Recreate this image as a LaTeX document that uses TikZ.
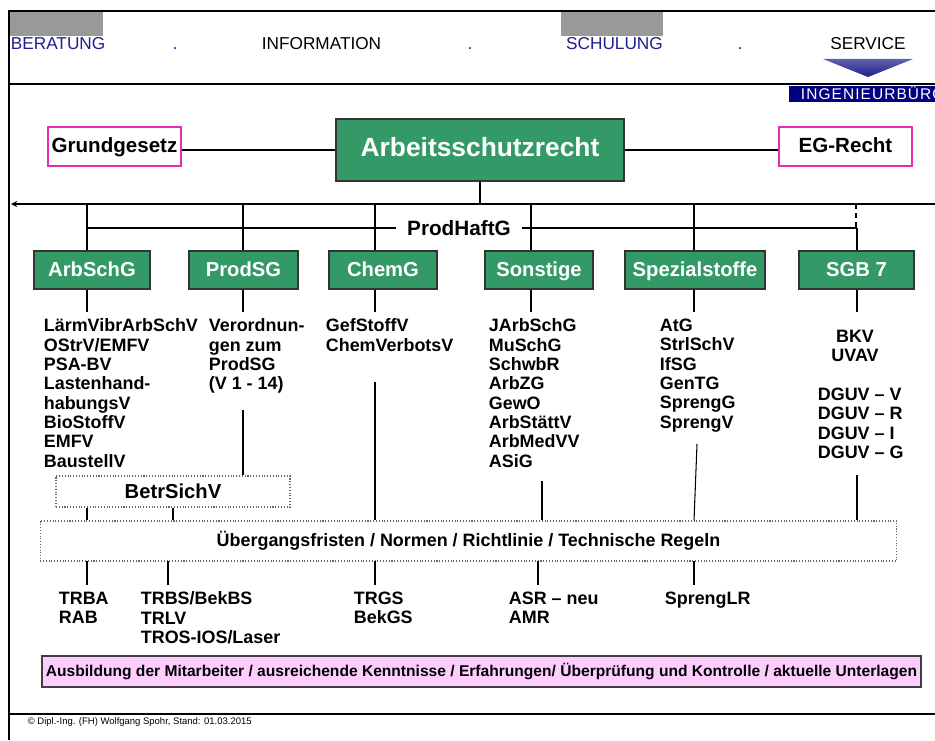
\documentclass[tikz,border=0pt]{standalone}
\usepackage{fontspec}
\setmainfont{Liberation Sans}
\usepackage{tikz}
\definecolor{lawgreen}{RGB}{51,153,102}
\definecolor{headblue}{RGB}{30,30,140}
\definecolor{officenavy}{RGB}{0,0,128}
\definecolor{sourcepink}{RGB}{225,45,175}
\definecolor{notepink}{RGB}{255,204,255}
\definecolor{bargrey}{RGB}{153,153,153}
\tikzset{%
  law box/.style={
    draw=black!80,
    line width=0.9pt,
    fill=lawgreen,
    text=white,
    inner sep=0pt,
    text height=0.72em,
    text depth=0pt,
    minimum height=0.76cm,
    font=\bfseries\fontsize{11.5}{13}\selectfont
  },
  source box/.style={
    draw=sourcepink,
    line width=0.8pt,
    fill=white,
    inner sep=0pt,
    text height=0.72em,
    text depth=0pt,
    minimum width=2.66cm,
    minimum height=0.78cm,
    font=\bfseries\fontsize{11.7}{13}\selectfont
  },
  law list/.style={
    anchor=north west,
    align=left,
    inner xsep=0pt,
    inner ysep=0.12cm,
    font=\bfseries\fontsize{10.2}{11}\selectfont
  },
  rule box/.style={
    draw=black!60,
    densely dotted,
    line width=0.6pt,
    inner sep=0pt
  },
  head/.style={
    anchor=base,
    inner sep=0pt,
    font=\fontsize{9.8}{11}\selectfont
  },
}

\begin{document}
\begin{tikzpicture}[x=0.02cm, y=-0.02cm, > = stealth, line width=1pt]
\useasboundingbox (0,0) rectangle (935,740);
\fill[bargrey] (10,12) rectangle (103,36);
\fill[bargrey] (561,12) rectangle (663,36);
\draw[line width=1.1pt] (935,11) -- (9,11) -- (9,740);
\draw[line width=1.1pt] (9,84) -- (935,84);
\draw[line width=1.1pt] (9,714) -- (935,714);

\node[head, anchor=base west, text=headblue] (beratung) at (10,50) {BERATUNG};
\node[head] (information) at (321.5,50) {INFORMATION};
\node[head, text=headblue] (schulung) at (614.5,50) {SCHULUNG};
\node[head] (service) at (868,50) {SERVICE};
\foreach \x/\n in {175/1, 470/2, 740/3}
  \node[head, text=headblue] (dot\n) at (\x,50) {.};
\shade[top color=headblue!70, bottom color=headblue] (823,59) -- (913,59) -- (868,77) -- cycle;
\fill[officenavy] (789,86) rectangle (935,102);
\node[anchor=base west, inner sep=0pt, text=white,
  font=\fontsize{8.8}{10}\selectfont\addfontfeature{LetterSpace=7}] (buero) at (800,99) {INGENIEURBÜRO};

\node[law box, minimum width=5.76cm, minimum height=1.24cm,
  font=\bfseries\fontsize{15}{17}\selectfont] (asr) at (480,150) {Arbeitsschutzrecht};
\node[source box] (gg) at (114.5,146.5) {Grundgesetz};
\node[source box] (eg) at (845.5,146.5) {EG-Recht};
\draw (gg.east |- asr.west) -- (asr.west);
\draw (asr.east) -- (eg.west |- asr.east);

\coordinate (busL) at (11,204);
\coordinate (busR) at (935,204);
\draw[->, line width=0.6pt] (busR) -- (busL);
\draw (asr.south) -- (asr.south |- busL);

\node[law box, minimum width=2.32cm] (arbschg) at (92,270) {ArbSchG};
\node[law box, minimum width=2.18cm] (prodsg) at (243.5,270) {ProdSG};
\node[law box, minimum width=2.16cm] (chemg) at (383,270) {ChemG};
\node[law box, minimum width=2.16cm] (sonst) at (539,270) {Sonstige};
\node[law box, minimum width=2.8cm] (spez) at (695,270) {Spezialstoffe};
\node[law box, minimum width=2.3cm] (sgb) at (856.5,270) {SGB 7};

\node[inner xsep=0.2cm, inner ysep=0pt,
  font=\bfseries\fontsize{11.8}{13}\selectfont] (phg) at (459,228) {ProdHaftG};
\coordinate (ph-a) at (87,228);
\coordinate (ph-b) at (857,228);
\draw[line width=0.6pt] (ph-a) -- (phg.west);
\draw[line width=0.6pt] (phg.east) -- (ph-b);
\coordinate (top-sgb) at (856,204);
\draw[densely dashed, line width=0.6pt] (top-sgb) -- (top-sgb |- ph-b);
\draw (ph-b) -- (ph-b |- sgb.north);

\node[law list] (l-arb) at (43,312) {LärmVibrArbSchV\\OStrV/EMFV\\PSA-BV\\Lastenhand-\\habungsV\\BioStoffV\\EMFV\\BaustellV};
\node[law list] (l-prod) at (208,312) {Verordnun-\\gen zum\\ProdSG\\(V 1 - 14)};
\node[law list] (l-chem) at (325,312) {GefStoffV\\ChemVerbotsV};
\node[law list] (l-sonst) at (488,312) {JArbSchG\\MuSchG\\SchwbR\\ArbZG\\GewO\\ArbStättV\\ArbMedVV\\ASiG};
\node[law list] (l-spez) at (659,312) {AtG\\StrlSchV\\IfSG\\GenTG\\SprengG\\SprengV};
\node[law list, anchor=north, align=center, inner ysep=0.34cm] (l-sgb) at (855,312) {BKV\\UVAV};
\node[law list] (l-dguv) at (817,381) {DGUV – V\\DGUV – R\\DGUV – I\\DGUV – G};

\foreach \x/\n/\l in {87/arbschg/l-arb, 243/prodsg/l-prod, 375/chemg/l-chem, 531/sonst/l-sonst, 694/spez/l-spez} {
  \coordinate (top-\n) at (\x,204);
  \draw (top-\n) -- (top-\n |- \n.north);
  \draw (top-\n |- \n.south) -- (top-\n |- \l.north);
}
\draw (ph-b |- sgb.south) -- (ph-b |- l-sgb.north);

\node[rule box, minimum width=17.14cm, minimum height=0.8cm,
  font=\bfseries\fontsize{10.2}{11}\selectfont] (ueb) at (468.5,541) {Übergangsfristen / Normen / Richtlinie / Technische Regeln};
\node[rule box, minimum width=4.68cm, minimum height=0.62cm,
  font=\bfseries\fontsize{11.5}{13}\selectfont] (betr) at (173,491.5) {BetrSichV};

\coordinate (q-prod) at (243,410);
\coordinate (q-chem) at (375,382);
\coordinate (q-sonst) at (542,481);
\coordinate (q-spez) at (697,444);
\coordinate (q-sgb) at (857,475);
\draw[line width=0.6pt] (q-prod) -- (q-prod |- betr.north);
\draw (betr.south -| top-arbschg) -- (ueb.north -| top-arbschg);
\draw[line width=0.6pt] (betr.south) -- (betr.south |- ueb.north);
\draw (q-chem) -- (q-chem |- ueb.north);
\draw (q-sonst) -- (q-sonst |- ueb.north);
\draw[line width=0.6pt] (q-spez) -- (ueb.north -| top-spez);
\draw (q-sgb) -- (q-sgb |- ueb.north);

\node[law list] (u-arb) at (58,585) {TRBA\\RAB};
\node[law list] (u-betr) at (140,585) {TRBS/BekBS\\TRLV\\TROS-IOS/Laser};
\node[law list] (u-chem) at (353,585) {TRGS\\BekGS};
\node[law list] (u-sonst) at (508,585) {ASR – neu\\AMR};
\node[law list] (u-spez) at (664,585) {SprengLR};
\foreach \x/\n in {87/u-arb, 168/u-betr, 375/u-chem, 538/u-sonst, 694/u-spez} {
  \coordinate (d-\n) at (\x,561);
  \draw (d-\n) -- (d-\n |- \n.north);
}

\node[draw=black!75, line width=0.9pt, fill=notepink, inner sep=0pt,
  minimum width=17.58cm, minimum height=0.62cm,
  font=\bfseries\fontsize{8.87}{10}\selectfont] (ausb) at (481.5,671.5)
  {Ausbildung der Mitarbeiter / ausreichende Kenntnisse / Erfahrungen/ Überprüfung und Kontrolle / aktuelle Unterlagen};

\node[anchor=base west, inner sep=0pt, font=\fontsize{5.4}{6}\selectfont] (foot) at (27,724)
  {© Dipl.-Ing. (FH) Wolfgang Spohr, Stand: 01.03.2015};
\end{tikzpicture}
\end{document}
